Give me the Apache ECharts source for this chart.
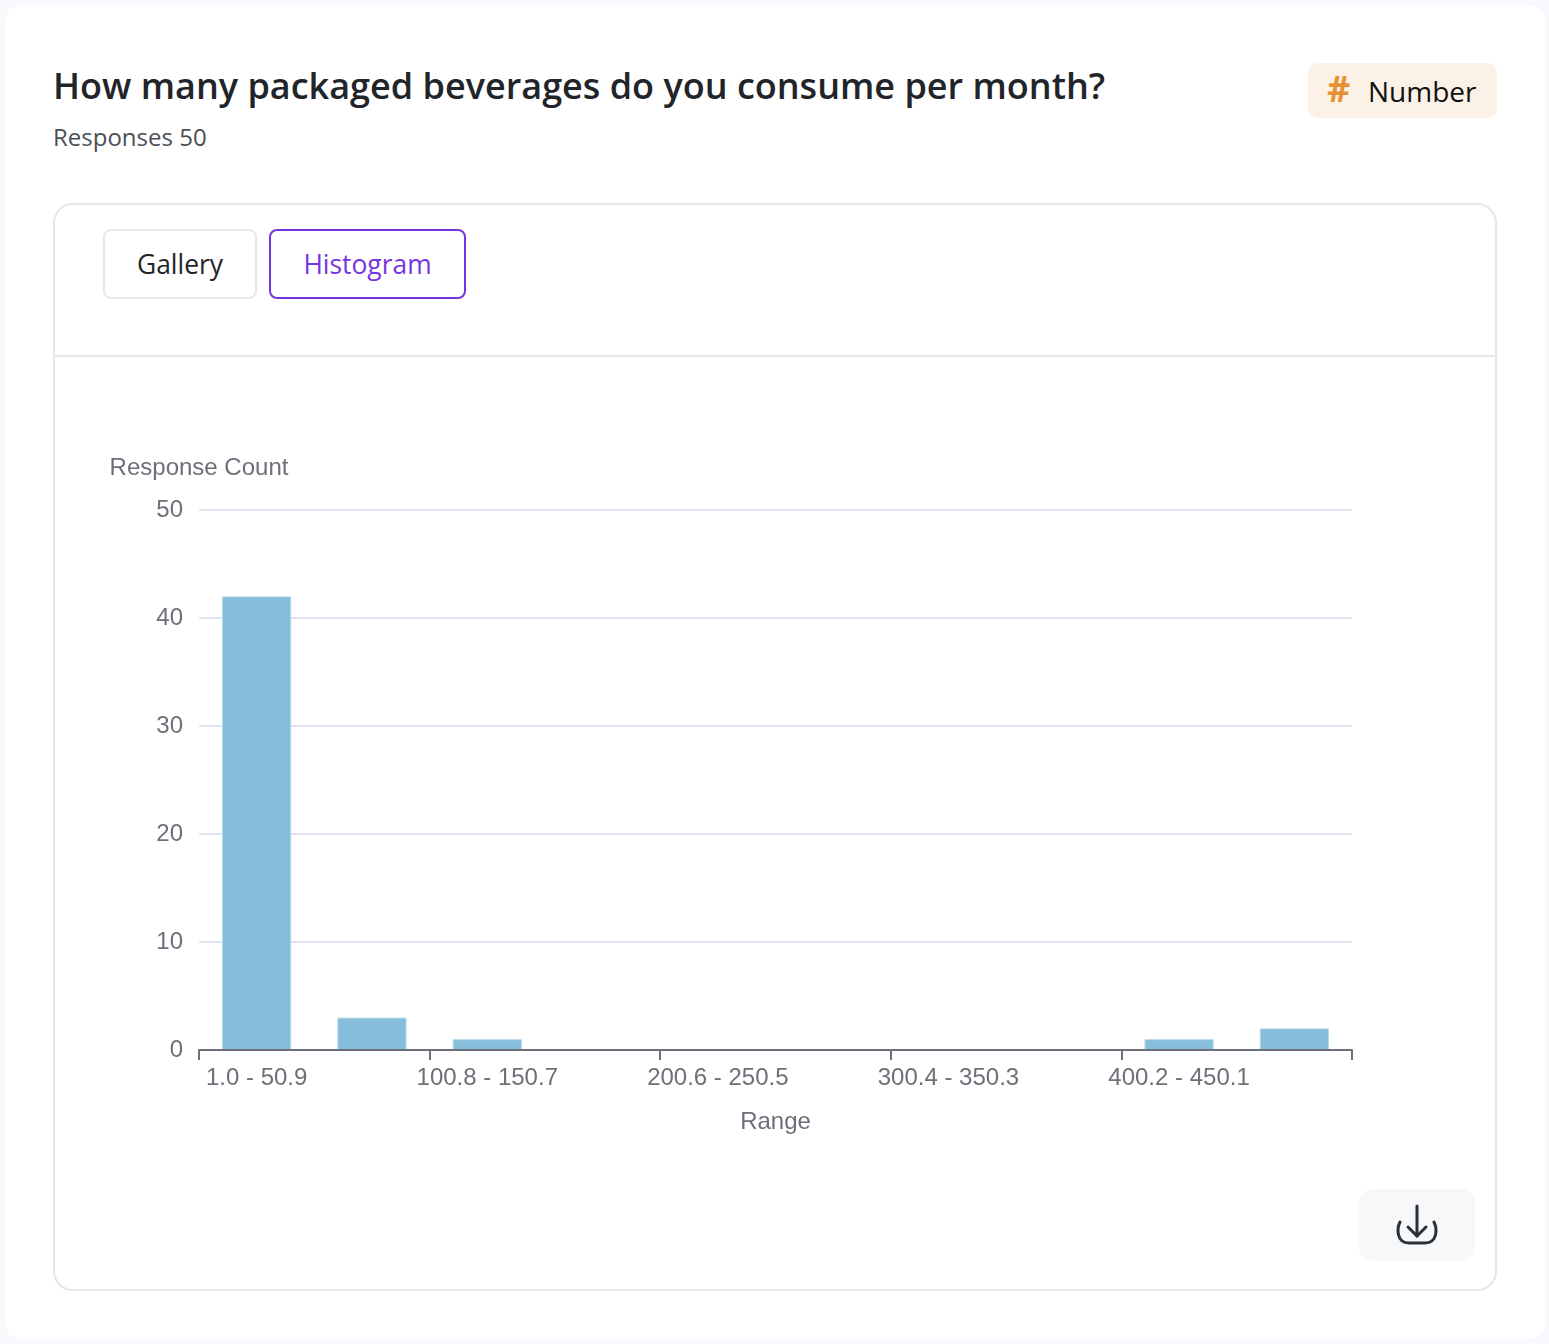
<!DOCTYPE html>
<html>
<head>
<meta charset="utf-8">
<title>Histogram</title>
<script src="https://cdn.jsdelivr.net/npm/echarts@6/dist/echarts.min.js"></script>
<style>
    html, body { margin: 0; padding: 0; width: 1549px; height: 1344px; overflow: hidden; background: #f8f9fd; font-family: "Open Sans", sans-serif; }
    .card { position: absolute; left: 5px; top: 5px; width: 1540px; height: 1334px; background: #fff; border-radius: 16px; }
    .title { position: absolute; left: 53px; top: 62px; font-size: 36px; line-height: 48px; font-weight: 600; color: #212529; white-space: nowrap; }
    .sub { position: absolute; left: 53px; top: 120px; font-size: 24px; line-height: 34px; color: #495057; white-space: nowrap; }
    .badge { position: absolute; left: 1308px; top: 63px; width: 189px; height: 55px; background: #fcf1e6; border-radius: 10px; }
    .badge b { position: absolute; left: 19px; top: 5px; font-size: 36px; line-height: 42px; font-weight: 700; color: #e89236; }
    .badge span { position: absolute; left: 60px; top: 9px; font-size: 28px; line-height: 38px; color: #111; }
    .panel { position: absolute; left: 53px; top: 203px; width: 1440px; height: 1084px; border: 2px solid #e3e8ed; border-radius: 20px; background: #fff; }
    .divider { position: absolute; left: 55px; top: 355px; width: 1440px; height: 2px; background: #e3e8ed; }
    .tab { position: absolute; top: 229px; height: 66px; box-sizing: content-box; border-radius: 8px; background: #fff; text-align: center; font-size: 26.4px; line-height: 66px; }
    .tab1 { left: 103px; width: 150px; border: 2px solid #e3e8ed; color: #212529; }
    .tab2 { left: 269px; width: 193px; border: 2px solid #7536e0; color: #7536e0; }
    #chart { position: absolute; left: 55px; top: 358px; width: 1438px; height: 830px; }
    .download { position: absolute; left: 1359px; top: 1189px; width: 116px; height: 72px; background: #f7f8fa; border-radius: 14px; }
    .download svg { position: absolute; left: 37px; top: 15px; }
</style>
</head>
<body>
<div class="card"></div>
<div class="title">How many packaged beverages do you consume per month?</div>
<div class="sub">Responses 50</div>
<div class="badge"><b>#</b><span>Number</span></div>
<div class="panel"></div>
<div class="divider"></div>
<div class="tab tab1">Gallery</div>
<div class="tab tab2">Histogram</div>
<div id="chart"></div>
<div class="download">
    <svg width="42" height="42" viewBox="0 0 42 42" fill="none" stroke="#2b2f36" stroke-width="3" stroke-linecap="round" stroke-linejoin="round">
        <path d="M21 2 V32"/>
        <path d="M12 23 L21 32 L30 23"/>
        <path d="M4 18 C1 24 0 39 13 39 H29 C42 39 41 24 38 18"/>
    </svg>
</div>
<script>
// 分组区间
var categories = ["1.0 - 50.9", "50.9 - 100.8", "100.8 - 150.7", "150.7 - 200.6", "200.6 - 250.5", "250.5 - 300.4", "300.4 - 350.3", "350.3 - 400.2", "400.2 - 450.1", "450.1 - 500.0"];
// 每组回答数
var counts = [42, 3, 1, 0, 0, 0, 0, 0, 1, 2];
var axisText = "#6e7079";

var myChart = echarts.init(document.getElementById("chart"), null, { renderer: "canvas" });
var option = {
    animation: false,
    grid: { left: 144, right: 141, top: 152, height: 540 },
    textStyle: { fontFamily: "'Liberation Sans', Arial, sans-serif" },
    xAxis: {
        type: "category",
        data: categories,
        name: "Range",
        nameLocation: "middle",
        nameGap: 60,
        z: 5,
        nameTextStyle: { color: axisText, fontSize: 24 },
        axisLine: { lineStyle: { color: axisText, width: 2 } },
        axisTick: { show: true, alignWithLabel: false, interval: 1, length: 10, lineStyle: { color: axisText, width: 2 } },
        axisLabel: { interval: 1, color: axisText, fontSize: 24, margin: 16 }
    },
    yAxis: {
        type: "value",
        min: 0,
        max: 50,
        interval: 10,
        name: "Response Count",
        nameGap: 30,
        nameTextStyle: { color: axisText, fontSize: 24 },
        axisLabel: { color: axisText, fontSize: 24, margin: 16 },
        splitLine: { lineStyle: { color: "#e0e6f1", width: 2 } }
    },
    series: [{
        type: "bar",
        data: counts,
        barWidth: "60%",
        itemStyle: { color: "#85bdda", borderColor: "#b5d8ea", borderWidth: 1 }
    }]
};
myChart.setOption(option);
</script>
</body>
</html>
